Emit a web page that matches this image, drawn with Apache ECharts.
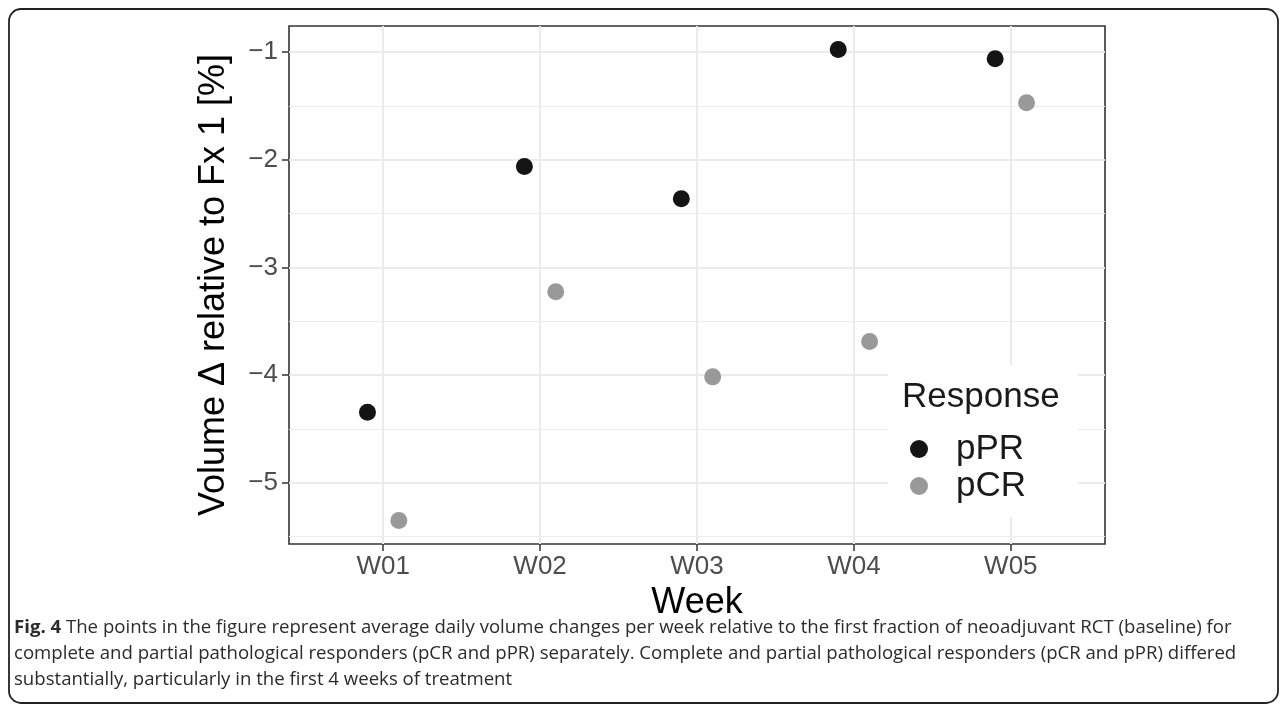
<!DOCTYPE html>
<html>
<head>
<meta charset="utf-8">
<script src="https://cdn.jsdelivr.net/npm/echarts@6/dist/echarts.min.js"></script>
<style>
html,body{margin:0;padding:0;background:#fff;}
#chart{width:1284px;height:710px;}
</style>
</head>
<body>
<div id="chart"></div>
<script>
// data
var weeks = ['W01', 'W02', 'W03', 'W04', 'W05'];
var weekTicks = [1, 2, 3, 4, 5];
var pPR = [-4.345, -2.062, -2.361, -0.975, -1.06];
var pCR = [-5.35, -3.225, -4.016, -3.688, -1.47];
var yTicks = [-5, -4, -3, -2, -1];
var yMinorTicks = [-5.5, -4.5, -3.5, -2.5, -1.5];
var captionLines = [
    '{b|Fig. 4} The points in the figure represent average daily volume changes per week relative to the first fraction of neoadjuvant RCT (baseline) for',
    'complete and partial pathological responders (pCR and pPR) separately. Complete and partial pathological responders (pCR and pPR) differed',
    'substantially, particularly in the first 4 weeks of treatment'
];

var dodge = 0.1;
var font = '"Liberation Sans", Arial, sans-serif';
var capFont = '"Open Sans", "Noto Sans", sans-serif';

// ggplot style limits: 5% expansion of the data range
var all = pPR.concat(pCR);
var lo = Math.min.apply(null, all), hi = Math.max.apply(null, all);
var pad = (hi - lo) * 0.05;

function dodged(vals, off) {
    return vals.map(function (v, i) { return [weekTicks[i] + off, v]; });
}

var chart = echarts.init(document.getElementById('chart'));

var caption = captionLines.map(function (t, i) {
    return {
        type: 'text',
        x: 14,
        y: 628 + i * 26,
        style: {
            text: t,
            fill: '#2b2b2b',
            fontSize: 18.6,
            fontFamily: capFont,
            verticalAlign: 'middle',
            rich: {
                b: { fontWeight: 'bold', fontSize: 18.6, fontFamily: capFont, fill: '#2b2b2b' }
            }
        }
    };
});

option = {
    backgroundColor: '#fff',
    animation: false,
    grid: {
        left: 289,
        top: 26,
        right: 179,
        bottom: 166,
        show: true,
        borderColor: '#333',
        borderWidth: 1.6,
        backgroundColor: 'transparent'
    },
    xAxis: {
        type: 'value',
        min: 0.4,
        max: 5.6,
        name: 'Week',
        nameLocation: 'middle',
        nameGap: 39,
        nameTextStyle: { fontSize: 36, color: '#000', fontFamily: font },
        axisLine: { show: false },
        axisTick: { show: true, length: 7, customValues: weekTicks, lineStyle: { color: '#333', width: 1.5 } },
        axisLabel: {
            customValues: weekTicks,
            margin: 10,
            fontSize: 26,
            color: '#4d4d4d',
            fontFamily: font,
            formatter: function (v) { return weeks[Math.round(v) - 1]; }
        },
        splitLine: { show: true, lineStyle: { color: '#ebebeb', width: 2 } }
    },
    yAxis: [
        {
            type: 'value',
            min: lo - pad,
            max: hi + pad,
            name: 'Volume Δ relative to Fx 1 [%]',
            nameLocation: 'middle',
            nameGap: 57,
            nameTextStyle: { fontSize: 36, color: '#000', fontFamily: font },
            axisLine: { show: false },
            axisTick: { show: true, length: 7, customValues: yTicks, lineStyle: { color: '#333', width: 1.5 } },
            axisLabel: {
                customValues: yTicks,
                margin: 11,
                fontSize: 26,
                color: '#4d4d4d',
                fontFamily: font,
                formatter: function (v) { return (v < 0 ? '\u2212' : '') + Math.abs(v); }
            },
            splitLine: { show: true, lineStyle: { color: '#ebebeb', width: 2 } }
        },
        {
            type: 'value',
            position: 'right',
            min: lo - pad,
            max: hi + pad,
            axisLine: { show: false },
            axisTick: { show: false, customValues: yMinorTicks },
            axisLabel: { show: false, customValues: yMinorTicks },
            splitLine: { show: true, lineStyle: { color: '#ededed', width: 1.2 } }
        }
    ],
    legend: {
        orient: 'vertical',
        left: 910,
        top: 430.5,
        padding: 0,
        itemGap: 0,
        itemWidth: 18,
        itemHeight: 18,
        icon: 'circle',
        selectedMode: false,
        data: ['pPR', 'pCR'],
        textStyle: {
            fontSize: 35,
            lineHeight: 37,
            color: '#1a1a1a',
            fontFamily: font,
            padding: [0, 0, 0, 23]
        }
    },
    graphic: [
        {
            type: 'rect',
            z: 3,
            shape: { x: 888, y: 365, width: 190, height: 152 },
            style: { fill: '#fff' }
        },
        {
            type: 'text',
            z: 4,
            x: 902,
            y: 397,
            style: { text: 'Response', fontSize: 35, fill: '#1a1a1a', fontFamily: font, verticalAlign: 'middle' }
        },
        {
            type: 'rect',
            z: 5,
            shape: { x: 9, y: 9, width: 1269, height: 694, r: 12 },
            style: { fill: 'none', stroke: '#222', lineWidth: 1.8 }
        }
    ].concat(caption),
    series: [
        {
            name: 'pPR',
            type: 'scatter',
            symbolSize: 17,
            itemStyle: { color: '#141414', opacity: 1 },
            data: dodged(pPR, -dodge)
        },
        {
            name: 'pCR',
            type: 'scatter',
            symbolSize: 17,
            itemStyle: { color: '#999999', opacity: 1 },
            data: dodged(pCR, dodge)
        }
    ]
};

chart.setOption(option);
</script>
</body>
</html>
